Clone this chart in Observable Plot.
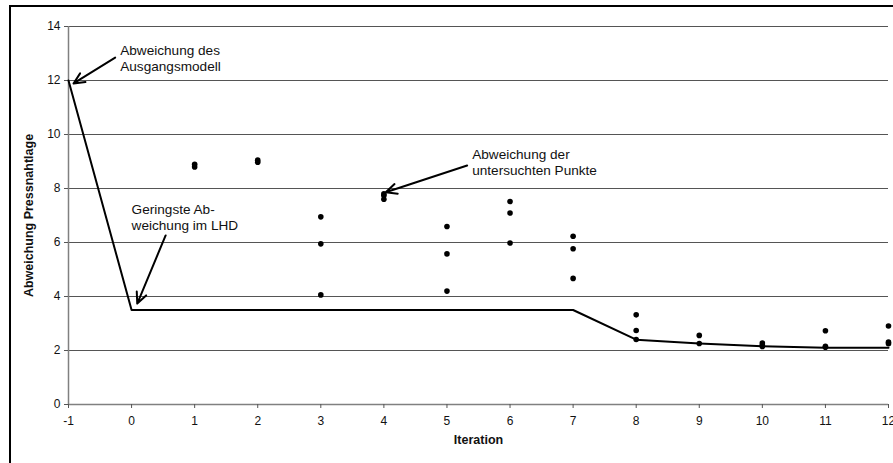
<!DOCTYPE html>
<html>
<head>
<meta charset="utf-8">
<script src="https://cdn.jsdelivr.net/npm/d3@7"></script>
<script src="https://cdn.jsdelivr.net/npm/@observablehq/plot@0.6"></script>
<style>
  html, body { margin: 0; padding: 0; background: #fff; overflow: hidden; width: 893px; height: 463px; }
  #wrap { position: relative; width: 893px; height: 463px; }
  #frame { position: absolute; left: 9px; top: 5px; width: 1000px; height: 1000px; border: 2px solid #000; pointer-events: none; }
  svg { font-family: "Liberation Sans", Arial, sans-serif; }
</style>
</head>
<body>
<div id="wrap"><div id="frame"></div></div>
<script>
// Best (lowest) deviation line per iteration
const iterations = [-1, 0, 1, 2, 3, 4, 5, 6, 7, 8, 9, 10, 11, 12];
const bestDev    = [12, 3.5, 3.5, 3.5, 3.5, 3.5, 3.5, 3.5, 3.5, 2.4, 2.26, 2.16, 2.1, 2.1];

// Deviations of the examined points
const pointIter = [1, 1, 2, 2, 3, 3, 3, 4, 4, 4, 5, 5, 5, 6, 6, 6, 7, 7, 7, 8, 8, 8, 9, 9, 10, 10, 10, 11, 11, 11, 12, 12, 12];
const pointDev  = [8.9, 8.8, 9.05, 8.97, 6.95, 5.95, 4.06, 7.8, 7.74, 7.6, 6.59, 5.58, 4.2, 7.52, 7.09, 5.98, 6.23, 5.77, 4.67, 3.32, 2.74, 2.41, 2.56, 2.26, 2.28, 2.2, 2.15, 2.73, 2.16, 2.12, 2.91, 2.31, 2.25];

const xTicks = [-1, 0, 1, 2, 3, 4, 5, 6, 7, 8, 9, 10, 11, 12];
const yTicks = [0, 2, 4, 6, 8, 10, 12, 14];
const gridTicks = [2, 4, 6, 8, 10, 12, 14];

const xTitle = "Iteration";
const yTitle = "Abweichung Pressnahtlage";

// Annotations (text and arrows, in data coordinates)
const annText = ["Abweichung des\nAusgangsmodell", "Geringste Ab-\nweichung im LHD", "Abweichung der\nuntersuchten Punkte"];
const annX = [-0.18, 0.0, 5.4];
const annY = [13.37, 7.48, 9.52];
const arrowX1 = [-0.26, 0.54, 5.32];
const arrowY1 = [12.85, 6.26, 8.85];
const arrowX2 = [-0.92, 0.09, 4.03];
const arrowY2 = [11.89, 3.74, 7.86];

const lineData = iterations.map((x, i) => ({x, y: bestDev[i]}));
const pointData = pointIter.map((x, i) => ({x, y: pointDev[i]}));
const annData = annText.map((t, i) => ({t, x: annX[i], y: annY[i]}));
const arrowData = arrowX1.map((x1, i) => ({x1, y1: arrowY1[i], x2: arrowX2[i], y2: arrowY2[i]}));

const chart = Plot.plot({
  width: 893,
  height: 463,
  marginLeft: 68,
  marginRight: 5,
  marginTop: 26,
  marginBottom: 59,
  style: {fontFamily: '"Liberation Sans", Arial, sans-serif', background: "transparent"},
  x: {domain: [-1, 12]},
  y: {domain: [0, 14]},
  marks: [
    Plot.gridY(gridTicks, {stroke: "#555", strokeOpacity: 1, strokeWidth: 1}),
    Plot.ruleX([-1], {stroke: "#808080", strokeWidth: 1.5}),
    Plot.ruleY([0], {stroke: "#808080", strokeWidth: 1.5}),
    Plot.axisY(yTicks, {tickSize: 4, tickPadding: 4, label: null, fontSize: 12, stroke: "#555", fill: "#111"}),
    Plot.axisX(xTicks, {tickSize: 4, tickPadding: 8, label: null, fontSize: 12, tickFormat: d => String(d), stroke: "#555", fill: "#111"}),
    Plot.text([xTitle], {frameAnchor: "bottom", dy: 39, fontSize: 12.5, fontWeight: "bold", fill: "#111"}),
    Plot.text([yTitle], {frameAnchor: "left", textAnchor: "middle", dx: -40, rotate: -90, fontSize: 12.5, fontWeight: "bold", fill: "#111"}),
    Plot.line(lineData, {x: "x", y: "y", stroke: "#000", strokeWidth: 2}),
    Plot.dot(pointData, {x: "x", y: "y", r: 2.8, fill: "#000", stroke: "none"}),
    Plot.arrow(arrowData, {x1: "x1", y1: "y1", x2: "x2", y2: "y2", stroke: "#000", strokeWidth: 2, headLength: 9, headAngle: 50}),
    Plot.text(annData, {x: "x", y: "y", text: "t", textAnchor: "start", lineAnchor: "top", fontSize: 13.6, lineHeight: 1.18, fill: "#111"})
  ]
});
document.getElementById("wrap").appendChild(chart);
chart.style.position = "absolute";
chart.style.left = "0";
chart.style.top = "0";
</script>
</body>
</html>
